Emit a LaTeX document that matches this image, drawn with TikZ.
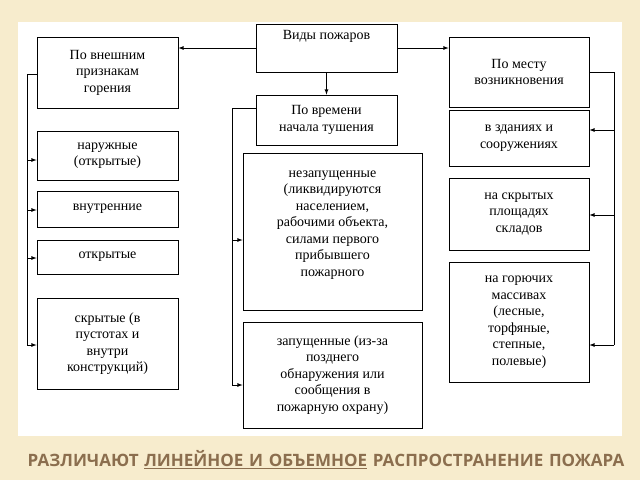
\documentclass[tikz,border=0pt]{standalone}
\usepackage{fontspec}
\setmainfont{Liberation Serif}
\newfontfamily\titlefont{Open Sans}
\usetikzlibrary{positioning}
\definecolor{paper}{RGB}{247,236,205}
\definecolor{titlebrown}{RGB}{139,110,78}
\tikzset{
  fbox/.style={draw, thick, fill=white, align=center, inner sep=1pt,
    font=\fontsize{14}{16.5}\selectfont},
  link/.style={thick, -latex},
  bus/.style={thick},
}
\begin{document}
\begin{tikzpicture}[x=1pt,y=-1pt]
\useasboundingbox (0,0) rectangle (640,480);
\fill[paper] (0,0) rectangle (640,480);
\fill[white] (18,22) rectangle (622,436);

%Ячейки
\node[fbox, minimum width=141, minimum height=48] (vid) at (326.5,48) {Виды пожаров\\[10pt]};
\node[fbox, minimum width=141, minimum height=71] (vnesh) at (107.5,72.5) {По внешним\\признакам\\горения};
\node[fbox, minimum width=140, minimum height=70] (mesto) at (519,72) {По месту\\возникновения};
\node[fbox, minimum width=141, minimum height=50] (vrem) at (326.5,120) {По времени\\начала тушения};
\node[fbox, minimum width=141, minimum height=49] (naruzh) at (107.5,155.5) {наружные\\(открытые)};
\node[fbox, minimum width=141, minimum height=36] (vnutr) at (107.5,209) {внутренние};
\node[fbox, minimum width=141, minimum height=34] (otkr) at (107.5,257) {открытые};
\node[fbox, minimum width=141, minimum height=91] (skryt) at (107.5,343.5) {скрытые (в\\пустотах и\\внутри\\конструкций)};
\node[fbox, minimum width=179, minimum height=157] (nezap) at (332.5,231.5) {незапущенные\\(ликвидируются\\населением,\\рабочими объекта,\\силами первого\\прибывшего\\пожарного\\};
\node[fbox, minimum width=179, minimum height=106] (zap) at (332.5,375) {запущенные (из-за\\позднего\\обнаружения или\\сообщения в\\пожарную охрану)};
\node[fbox, minimum width=140, minimum height=56] (zdan) at (519,138) {в зданиях и\\сооружениях};
\node[fbox, minimum width=140, minimum height=72] (sklad) at (519,214) {на скрытых\\площадях\\складов};
\node[fbox, minimum width=140, minimum height=120] (massiv) at (519,322) {на горючих\\массивах\\(лесные,\\торфяные,\\степные,\\полевые)};

%Связи
\draw[link] (vid.west |- 0,48) -- (vnesh.east |- 0,48);
\draw[link] (vid.east |- 0,48) -- (mesto.west |- 0,48);
\draw[link] (vid) -- (vrem);

\coordinate (lb) at (27,74);
\draw[bus] (vnesh.west |- lb) -- (lb) -- (27,345);
\foreach \b/\y in {naruzh/160, vnutr/210, otkr/258, skryt/345}
  \draw[link] (27,\y) -- (\b.west |- 0,\y);

\coordinate (mb) at (232,108);
\draw[bus] (vrem.west |- mb) -- (mb) -- (232,385);
\foreach \b/\y in {nezap/240, zap/385}
  \draw[link] (232,\y) -- (\b.west |- 0,\y);

\coordinate (rb) at (614,72);
\draw[bus] (mesto.east) -- (rb) -- (614,345);
\foreach \b/\y in {zdan/130, sklad/215, massiv/345}
  \draw[link] (614,\y) -- (\b.east |- 0,\y);

%Заголовок
\node[text=titlebrown, font=\titlefont\bfseries\fontsize{17}{19}\selectfont,
  align=center, text width=604] (title) at (326,460)
  {РАЗЛИЧАЮТ \underline{ЛИНЕЙНОЕ И ОБЪЕМНОЕ} РАСПРОСТРАНЕНИЕ ПОЖАРА};
\end{tikzpicture}
\end{document}
